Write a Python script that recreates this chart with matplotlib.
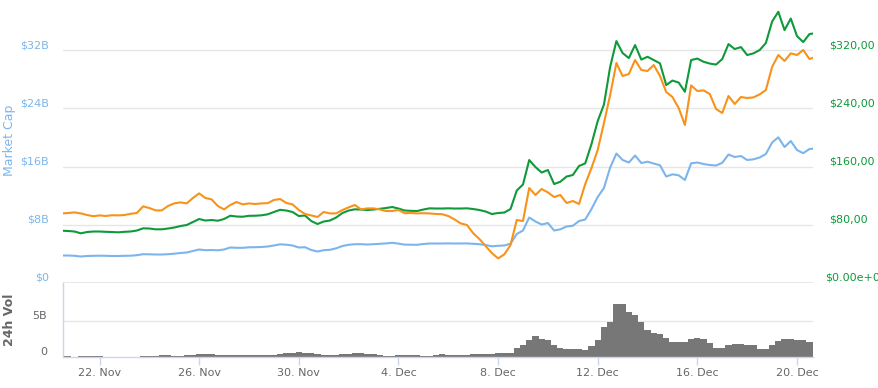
import datetime as dt
import matplotlib
matplotlib.use("Agg")
import matplotlib.pyplot as plt
import matplotlib.dates as mdates
from matplotlib.ticker import FuncFormatter
from matplotlib.transforms import ScaledTranslation

# ---------------- data (6-hour samples from 20 Nov 2017 12:00) ----------------
series_start = dt.datetime(2017, 11, 20, 12)
step_hours = 6

market_cap_b = [
    3.777, 3.777, 3.736, 3.640, 3.709, 3.736, 3.750, 3.736, 3.709, 3.709,
    3.736, 3.750, 3.819, 3.956, 3.942, 3.915, 3.915, 3.956, 4.025, 4.121,
    4.190, 4.396, 4.602, 4.505, 4.533, 4.492, 4.602, 4.876, 4.835, 4.835,
    4.904, 4.918, 4.945, 5.014, 5.151, 5.316, 5.261, 5.151, 4.876, 4.918,
    4.533, 4.327, 4.505, 4.560, 4.766, 5.082, 5.247, 5.330, 5.330, 5.288,
    5.330, 5.385, 5.440, 5.522, 5.412, 5.275, 5.261, 5.247, 5.357, 5.426,
    5.426, 5.426, 5.440, 5.426, 5.426, 5.440, 5.385, 5.330, 5.220, 5.041,
    5.110, 5.151, 5.398, 6.731, 7.212, 8.997, 8.448, 8.036, 8.242, 7.212,
    7.376, 7.761, 7.857, 8.516, 8.723, 10.165, 11.813, 13.049, 15.865, 17.788,
    16.896, 16.552, 17.514, 16.484, 16.662, 16.415, 16.168, 14.629, 14.931, 14.794,
    14.148, 16.442, 16.552, 16.346, 16.209, 16.140, 16.511, 17.651, 17.308, 17.445,
    16.896, 16.992, 17.239, 17.720, 19.299, 20.014, 18.681, 19.505, 18.269, 17.830,
    18.407, 18.475,
]

price_usd = [
    71.83, 71.42, 70.73, 68.26, 70.04, 70.73, 70.73, 70.32, 70.04, 69.63,
    70.32, 70.73, 72.10, 75.12, 74.85, 73.75, 73.75, 74.85, 76.22, 78.28,
    79.66, 83.78, 87.90, 85.84, 86.52, 85.56, 87.90, 92.43, 91.33, 91.06,
    92.29, 92.43, 92.98, 94.35, 97.51, 100.53, 99.57, 97.51, 92.02, 92.70,
    85.15, 81.03, 84.46, 85.84, 89.96, 96.14, 99.57, 101.22, 100.94, 100.26,
    100.94, 101.91, 103.01, 104.38, 102.32, 99.57, 99.16, 98.88, 100.94, 102.59,
    102.32, 102.32, 102.59, 102.32, 102.32, 102.59, 101.63, 100.26, 98.20, 94.76,
    96.14, 96.82, 101.63, 127.04, 135.28, 168.93, 159.31, 151.76, 155.19, 135.97,
    139.13, 146.27, 148.33, 160.69, 164.40, 190.90, 222.49, 245.15, 297.07, 332.36,
    315.88, 309.02, 326.87, 306.95, 310.80, 306.27, 301.74, 271.93, 278.11, 275.37,
    262.73, 306.27, 308.33, 303.93, 301.46, 300.09, 307.64, 328.24, 321.38, 324.12,
    313.14, 315.47, 320.00, 329.62, 359.14, 372.60, 347.47, 363.26, 339.23, 330.99,
    341.98, 343.35,
]

price_btc = [
    0.00748, 0.00750, 0.00753, 0.00748, 0.00740, 0.00734, 0.00738, 0.00735, 0.00739, 0.00738,
    0.00740, 0.00746, 0.00750, 0.00783, 0.00775, 0.00763, 0.00763, 0.00785, 0.00798, 0.00803,
    0.00798, 0.00825, 0.00848, 0.00825, 0.00818, 0.00785, 0.00768, 0.00790, 0.00805, 0.00793,
    0.00798, 0.00795, 0.00798, 0.00799, 0.00815, 0.00820, 0.00800, 0.00793, 0.00765, 0.00745,
    0.00738, 0.00730, 0.00755, 0.00748, 0.00748, 0.00765, 0.00778, 0.00790, 0.00768, 0.00773,
    0.00773, 0.00768, 0.00760, 0.00760, 0.00765, 0.00749, 0.00750, 0.00748, 0.00749, 0.00748,
    0.00745, 0.00744, 0.00735, 0.00718, 0.00698, 0.00690, 0.00649, 0.00620, 0.00585, 0.00550,
    0.00523, 0.00543, 0.00590, 0.00715, 0.00710, 0.00875, 0.00840, 0.00870, 0.00853, 0.00830,
    0.00840, 0.00800, 0.00810, 0.00795, 0.00895, 0.00975, 0.01065, 0.01200, 0.01340, 0.01500,
    0.01435, 0.01445, 0.01515, 0.01465, 0.01460, 0.01490, 0.01435, 0.01355, 0.01330, 0.01275,
    0.01190, 0.01388, 0.01360, 0.01363, 0.01345, 0.01270, 0.01250, 0.01335, 0.01295, 0.01330,
    0.01325, 0.01328, 0.01343, 0.01365, 0.01480, 0.01540, 0.01510, 0.01548, 0.01540, 0.01565,
    0.01520, 0.01530,
]

volume_b = [
    0.14, 0.12, 0.03, 0.15, 0.15, 0.15, 0.15, 0.03, 0.03, 0.03,
    0.03, 0.03, 0.05, 0.15, 0.15, 0.20, 0.28, 0.28, 0.15, 0.15,
    0.28, 0.28, 0.42, 0.46, 0.46, 0.30, 0.30, 0.28, 0.30, 0.30,
    0.30, 0.30, 0.30, 0.30, 0.32, 0.42, 0.55, 0.55, 0.70, 0.60,
    0.60, 0.46, 0.30, 0.30, 0.30, 0.46, 0.46, 0.50, 0.60, 0.46,
    0.35, 0.30, 0.14, 0.14, 0.30, 0.30, 0.30, 0.28, 0.17, 0.20,
    0.30, 0.35, 0.30, 0.30, 0.30, 0.30, 0.42, 0.42, 0.42, 0.42,
    0.50, 0.60, 0.60, 1.20, 1.67, 2.40, 2.90, 2.50, 2.36, 1.60,
    1.30, 1.07, 1.07, 1.05, 0.97, 1.50, 2.30, 4.20, 4.90, 7.40,
    7.30, 6.20, 5.80, 4.80, 3.75, 3.30, 3.20, 2.60, 2.15, 2.10,
    2.10, 2.50, 2.60, 2.50, 2.00, 1.30, 1.20, 1.70, 1.80, 1.75,
    1.67, 1.60, 1.10, 1.10, 1.67, 2.20, 2.45, 2.50, 2.40, 2.30,
    2.10, 2.10,
]

cap_ticks = [0, 8, 16, 24, 32]
cap_labels = ["\\$0", "\\$8B", "\\$16B", "\\$24B", "\\$32B"]
usd_ticks = [0, 80, 160, 240, 320]
usd_labels = ["\\$0.00e+0", "\\$80,00", "\\$160,00", "\\$240,00", "\\$320,00"]
vol_ticks = [0, 5]
vol_labels = ["0", "5B"]
date_ticks = [dt.datetime(2017, 11, 22) + dt.timedelta(days=4 * k) for k in range(8)]


def times(n):
    return [series_start + dt.timedelta(hours=step_hours * i) for i in range(n)]


# ---------------- styling ----------------
C_BLUE = "#7cb5ec"
C_GREEN = "#0e9a3a"
C_ORANGE = "#f7931a"
C_GRID = "#e6e6e6"
C_AXIS = "#ccd6eb"
C_TEXT = "#666666"

W, H = 879, 388
fig = plt.figure(figsize=(W / 100, H / 100), dpi=100)
plt.rcParams["font.family"] = ["DejaVu Sans"]


def box(x0, y0, x1, y1):
    return [x0 / W, 1 - y1 / H, (x1 - x0) / W, (y1 - y0) / H]


def shift_labels(labels, dy_px, dx_px=0):
    off = ScaledTranslation(dx_px / 100, dy_px / 100, fig.dpi_scale_trans)
    for lbl in labels:
        lbl.set_transform(lbl.get_transform() + off)


xmin = dt.datetime(2017, 11, 20, 12, 50)
xmax = dt.datetime(2017, 12, 20, 15, 25)

# main price panel
ax = fig.add_axes(box(63, 6.4, 813, 283))
ax.set_xlim(xmin, xmax)
ax.set_ylim(0, 38)
for s in ax.spines.values():
    s.set_visible(False)
ax.set_yticks(cap_ticks)
ax.set_yticklabels(cap_labels)
ax.tick_params(axis="y", length=0, pad=10, labelcolor=C_BLUE, labelsize=8)
ax.tick_params(axis="x", length=0, labelbottom=False)
ax.grid(axis="y", color=C_GRID, lw=1)
ax.set_axisbelow(True)
ax.axhline(0, color=C_GRID, lw=2, zorder=0.5)
shift_labels(ax.get_yticklabels(), 6)
ax.plot(times(len(market_cap_b)), market_cap_b, color=C_BLUE, lw=1.5, zorder=3)

axr = ax.twinx()
axr.set_ylim(0, 380)
for s in axr.spines.values():
    s.set_visible(False)
axr.set_yticks(usd_ticks)
axr.set_yticklabels(usd_labels)
axr.tick_params(axis="y", length=0, pad=11.5, labelcolor=C_GREEN, labelsize=8)
rlabels = axr.get_yticklabels()
shift_labels(rlabels[1:], 6)
shift_labels(rlabels[:1], 6, -4)
axr.plot(times(len(price_usd)), price_usd, color=C_GREEN, lw=1.5, zorder=3)

axo = ax.twinx()
axo.set_ylim(0.004, 0.004 + 276.6 / 20000)
axo.axis("off")
axo.plot(times(len(price_btc)), price_btc, color=C_ORANGE, lw=1.5, zorder=3)

# volume panel
axv = fig.add_axes(box(63, 283, 813, 357))
axv.set_xlim(xmin, xmax)
axv.set_ylim(0, 10.28)
axv.spines["top"].set_visible(False)
axv.spines["right"].set_visible(False)
axv.spines["left"].set_color(C_AXIS)
axv.spines["bottom"].set_color(C_AXIS)
axv.spines["left"].set_linewidth(1)
axv.spines["bottom"].set_linewidth(1)
axv.axhline(5, color=C_GRID, lw=1, zorder=0)
axv.bar(times(len(volume_b)), volume_b, width=0.25, color="#777777",
        linewidth=0, zorder=2)
axv.set_yticks(vol_ticks)
axv.set_yticklabels(vol_labels)
axv.tick_params(axis="y", length=0, pad=11.5, labelcolor=C_TEXT, labelsize=8)
shift_labels(axv.get_yticklabels(), 6)
axv.set_xticks(date_ticks)
axv.xaxis.set_major_formatter(FuncFormatter(
    lambda v, p: "{}. {}".format(mdates.num2date(v).day, mdates.num2date(v).strftime("%b"))))
axv.tick_params(axis="x", length=6, width=1, color=C_AXIS, pad=2,
                labelcolor=C_TEXT, labelsize=8)

fig.text(10 / W, 1 - 140 / H, "Market Cap", rotation=90, color=C_BLUE,
         fontsize=9, ha="center", va="center")
fig.text(10 / W, 1 - 320 / H, "24h Vol", rotation=90, color=C_TEXT,
         fontsize=9, fontweight="bold", ha="center", va="center")

fig.savefig("out.png", dpi=100)
